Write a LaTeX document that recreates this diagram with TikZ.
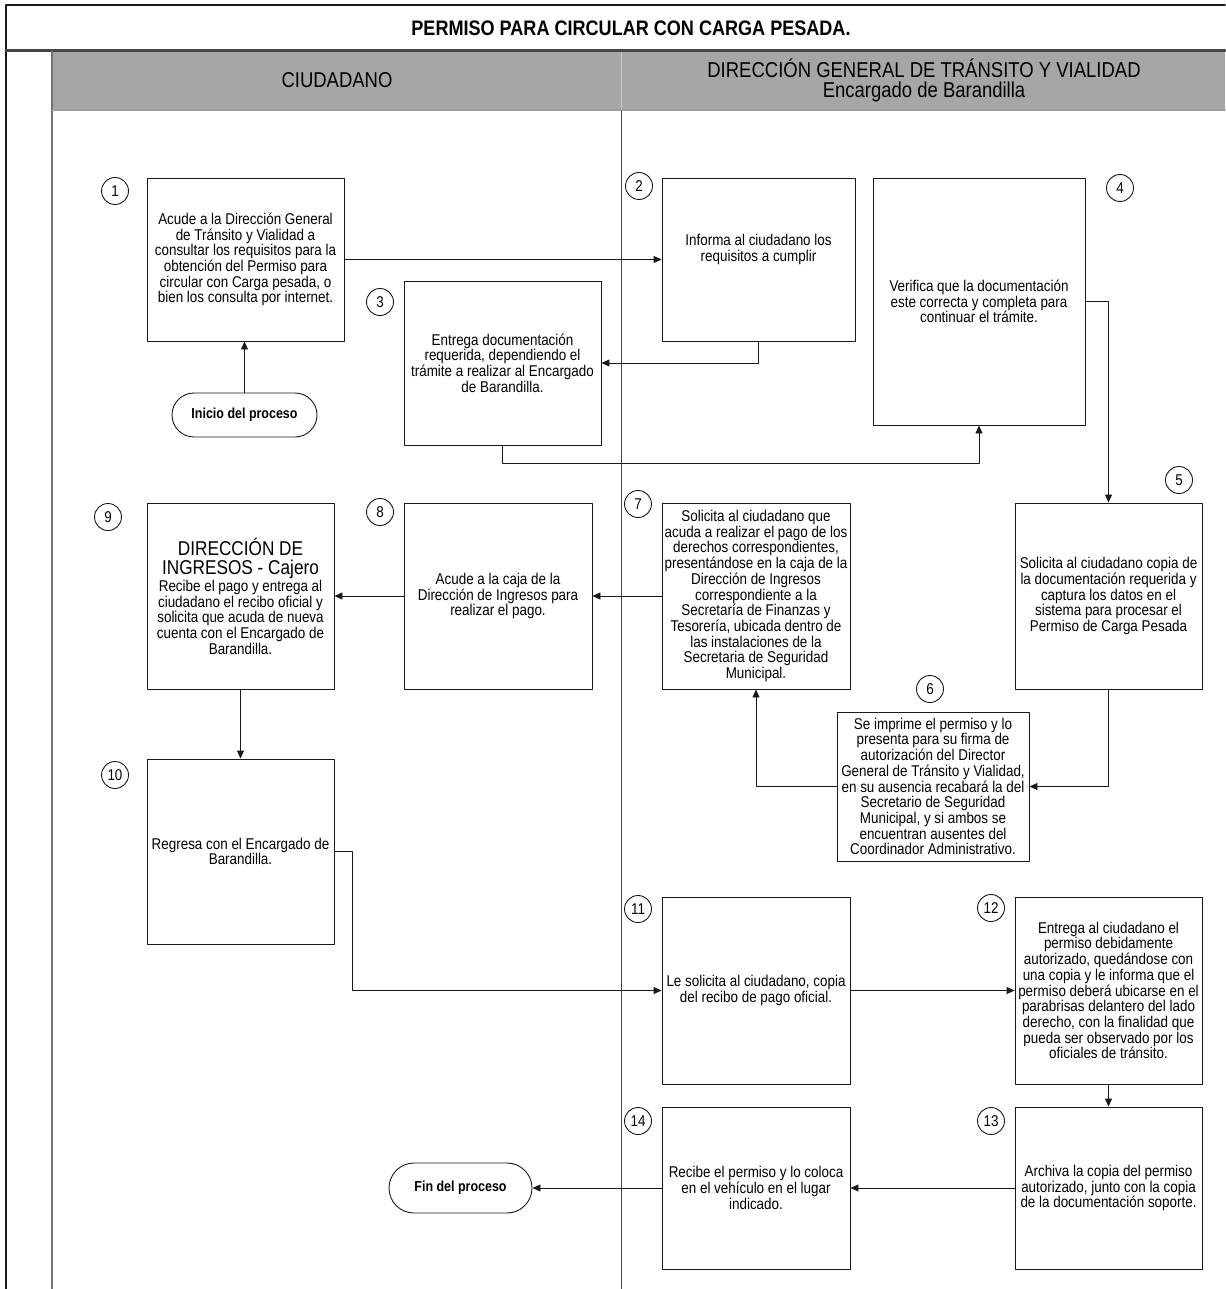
\documentclass[tikz,border=0pt]{standalone}
\usepackage{fontspec}
\setmainfont{Liberation Sans}[FakeStretch=0.86]
\usepackage{tikz}
\usetikzlibrary{arrows.meta}
\definecolor{aaaaaa}{rgb}{0.65,0.65,0.65}
\definecolor{uuuuuu}{rgb}{0.27,0.27,0.27}
\definecolor{qqqqqq}{rgb}{0.1,0.1,0.1}
\definecolor{ssssss}{rgb}{0.45,0.45,0.45}
\definecolor{cccccc}{rgb}{0.78,0.78,0.78}

\begin{document}
\begin{tikzpicture}[line cap=round,line join=round,>={Triangle[length=8pt,width=7pt]},x=1pt,y=-1pt,
	paso/.style={draw=qqqqqq,line width=0.9pt,align=center,inner sep=1pt,font=\fontsize{15.6}{15.7}\selectfont},
	num/.style={draw=qqqqqq,circle,line width=0.9pt,minimum size=27pt,inner sep=0pt,font=\fontsize{15.6}{15.7}\selectfont},
	terminal/.style={draw=qqqqqq,line width=0.9pt,align=center,font=\bfseries\fontsize{14.5}{15}\selectfont},
	flecha/.style={->,draw=qqqqqq,line width=0.9pt}]
	\useasboundingbox (0,0) rectangle (1225,1289);
	% marco y carriles
	\fill[color=aaaaaa] (52,51) rectangle (1225,110);
	\draw [line width=1.5pt,color=qqqqqq] (6,1289) -- (6,5) -- (1225,5);
	\draw [line width=3pt,color=uuuuuu] (6,51) -- (1225,51);
	\draw [line width=2pt,color=ssssss] (52,51) -- (52,1289);
	\draw [line width=1.5pt,color=ssssss!70] (52,110) -- (1225,110);
	\draw [color=cccccc] (621,52) -- (621,109);
	\draw [line width=0.8pt,color=uuuuuu] (621,111) -- (621,1289);
	\node (titulo) at (631,28) {\bfseries\fontsize{21}{22}\selectfont PERMISO PARA CIRCULAR CON CARGA PESADA.};
	\node (ciudadano) at (337,80) {\fontsize{21.5}{21}\selectfont CIUDADANO};
	\node[align=center,font=\fontsize{21.5}{20}\selectfont] (transito) at (924,80) {DIRECCIÓN GENERAL DE TRÁNSITO Y VIALIDAD\\Encargado de Barandilla};
	% pasos
	\node[terminal,minimum width=145pt,minimum height=44pt,rounded corners=22pt] (inicio) at (244.5,415) {Inicio del proceso};
	\node[paso,minimum width=197pt,minimum height=163pt] (p1) at (245.5,259.5) {Acude a la Dirección General\\de Tránsito y Vialidad a\\consultar los requisitos para la\\obtención del Permiso para\\circular con Carga pesada, o\\bien los consulta por internet.};
	\node[paso,minimum width=193pt,minimum height=163pt] (p2) at (758.5,259.5) {Informa al ciudadano los\\requisitos a cumplir\\[8pt]~};
	\node[paso,minimum width=197pt,minimum height=164pt] (p3) at (502.5,363) {Entrega documentación\\requerida, dependiendo el\\trámite a realizar al Encargado\\de Barandilla.};
	\node[paso,minimum width=212pt,minimum height=247pt] (p4) at (979,301.5) {Verifica que la documentación\\este correcta y completa para\\continuar el trámite.};
	\node[paso,minimum width=187pt,minimum height=186pt] (p5) at (1108.5,596) {Solicita al ciudadano copia de\\la documentación requerida y\\captura los datos en el\\sistema para procesar el\\Permiso de Carga Pesada};
	\node[paso,minimum width=192pt,minimum height=149pt] (p6) at (933,786.5) {Se imprime el permiso y lo\\presenta para su firma de\\autorización del Director\\General de Tránsito y Vialidad,\\en su ausencia recabará la del\\Secretario de Seguridad\\Municipal, y si ambos se\\encuentran ausentes del\\Coordinador Administrativo.};
	\node[paso,minimum width=188pt,minimum height=186pt] (p7) at (756,596) {Solicita al ciudadano que\\acuda a realizar el pago de los\\derechos correspondientes,\\presentándose en la caja de la\\Dirección de Ingresos\\correspondiente a la\\Secretaría de Finanzas y\\Tesorería, ubicada dentro de\\las instalaciones de la\\Secretaria de Seguridad\\Municipal.};
	\node[paso,minimum width=188pt,minimum height=186pt] (p8) at (498,596) {Acude a la caja de la\\Dirección de Ingresos para\\realizar el pago.};
	\node[paso,minimum width=187pt,minimum height=186pt] (p9) at (240.5,596) {\fontsize{20}{20}\selectfont DIRECCIÓN DE\\[4pt]\fontsize{20}{20}\selectfont INGRESOS - Cajero\\[1pt]\fontsize{15.6}{15.7}\selectfont Recibe el pago y entrega al\\ciudadano el recibo oficial y\\solicita que acuda de nueva\\cuenta con el Encargado de\\Barandilla.};
	\node[paso,minimum width=187pt,minimum height=185pt] (p10) at (240.5,851.5) {Regresa con el Encargado de\\Barandilla.};
	\node[paso,minimum width=188pt,minimum height=187pt] (p11) at (756,990.5) {Le solicita al ciudadano, copia\\del recibo de pago oficial.};
	\node[paso,minimum width=187pt,minimum height=187pt] (p12) at (1108.5,990.5) {Entrega al ciudadano el\\permiso debidamente\\autorizado, quedándose con\\una copia y le informa que el\\permiso deberá ubicarse en el\\parabrisas delantero del lado\\derecho, con la finalidad que\\pueda ser observado por los\\oficiales de tránsito.};
	\node[paso,minimum width=187pt,minimum height=162pt] (p13) at (1108.5,1188) {Archiva la copia del permiso\\autorizado, junto con la copia\\de la documentación soporte.};
	\node[paso,minimum width=188pt,minimum height=162pt] (p14) at (756,1188) {Recibe el permiso y lo coloca\\en el vehículo en el lugar\\indicado.};
	\node[terminal,minimum width=143pt,minimum height=50pt,rounded corners=25pt] (fin) at (460.5,1188) {Fin del proceso};
	% numeros
	\node[num] (n1) at (115,191) {1};
	\node[num] (n2) at (639,186) {2};
	\node[num] (n3) at (380,302) {3};
	\node[num] (n4) at (1120,188) {4};
	\node[num] (n5) at (1179,480) {5};
	\node[num] (n6) at (930,689) {6};
	\node[num] (n7) at (638,504) {7};
	\node[num] (n8) at (380,512) {8};
	\node[num] (n9) at (108,517) {9};
	\node[num] (n10) at (115,775) {10};
	\node[num] (n11) at (638,909) {11};
	\node[num] (n12) at (991,908) {12};
	\node[num] (n13) at (991,1121) {13};
	\node[num] (n14) at (638,1121) {14};
	% flechas
	\draw[flecha] (inicio.north) -- (inicio.north |- p1.south);
	\draw[flecha] (p1) -- (p2);
	\draw[flecha] (p2.south) |- (p3.east);
	\draw[flecha] (p3.south) -- ++(0,18) -| (p4.south);
	\draw[flecha] (p4.east) -| (p5.north);
	\draw[flecha] (p5.south) |- (p6.east);
	\draw[flecha] (p6.west) -| (p7.south);
	\draw[flecha] (p7) -- (p8);
	\draw[flecha] (p8) -- (p9);
	\draw[flecha] (p9) -- (p10);
	\draw[flecha] (p10.east) -- ++(18,0) |- (p11.west);
	\draw[flecha] (p11) -- (p12);
	\draw[flecha] (p12) -- (p13);
	\draw[flecha] (p13) -- (p14);
	\draw[flecha] (p14) -- (fin);
\end{tikzpicture}
\end{document}
